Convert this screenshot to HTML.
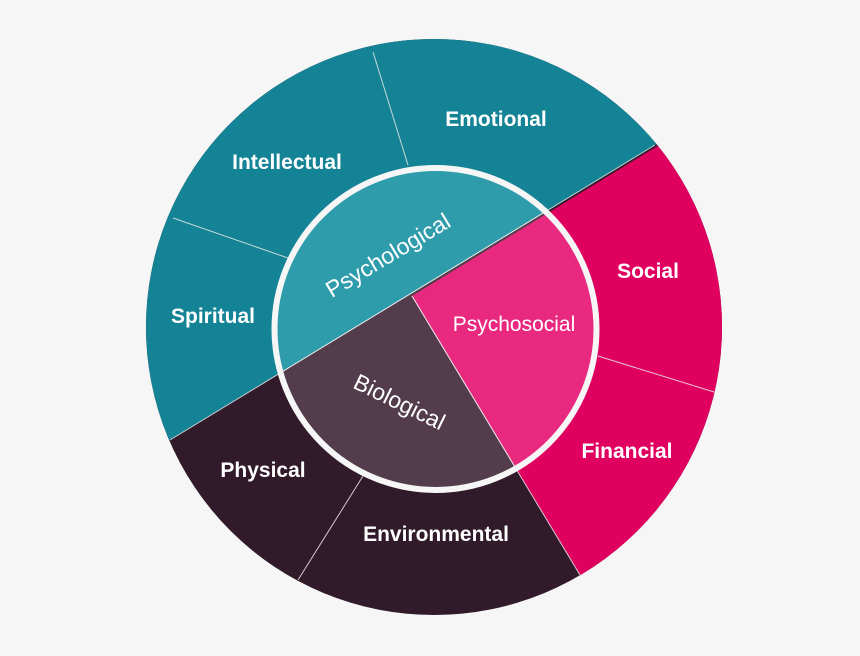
<!DOCTYPE html>
<html><head><style>
html,body{margin:0;padding:0;background:#f6f6f6;width:860px;height:656px;overflow:hidden;}
svg{display:block}
text{font-family:"Liberation Sans",sans-serif;fill:#fff;}
</style></head><body>
<svg width="860" height="656" viewBox="0 0 860 656">
<defs>
<clipPath id="outer"><circle cx="434" cy="327" r="288"/></clipPath>
<clipPath id="inner"><circle cx="435.5" cy="329" r="160"/></clipPath>
</defs>
<rect width="860" height="656" fill="#f6f6f6"/>
<g clip-path="url(#outer)">
<rect x="0" y="0" width="860" height="656" fill="#311a2a"/>
<polygon points="-800,1030 1625,-445 -800,-445" fill="#138395"/>
<polygon points="412,296 1625,-445 1625,1200 956,1200" fill="#e0005f"/>
<g stroke="#e8e8e8" stroke-width="1" opacity="0.85">
<line x1="373" y1="52" x2="408" y2="165"/>
<line x1="173" y1="218" x2="288" y2="258"/>
<line x1="598" y1="356" x2="714" y2="392"/>
<line x1="363" y1="476" x2="298" y2="580"/>
<line x1="170" y1="440" x2="655" y2="145"/>
<line x1="412" y1="296" x2="580" y2="575"/>
</g>
</g>
<g clip-path="url(#inner)">
<rect x="250" y="150" width="380" height="360" fill="#533d4c"/>
<polygon points="-800,1030 1625,-445 -800,-445" fill="#2e9cab"/>
<polygon points="412,296 1625,-445 1625,1200 956,1200" fill="#e8297f"/>
<g stroke="#f0f0f0" stroke-width="1">
<line x1="170" y1="440" x2="655" y2="145"/>
<line x1="412" y1="296" x2="580" y2="575"/>
</g>
</g>
<circle cx="435.5" cy="329" r="161" fill="none" stroke="#f6f6f6" stroke-width="6"/>
<g font-weight="bold" font-size="21" text-anchor="middle">
<text x="496" y="126">Emotional</text>
<text x="287" y="169">Intellectual</text>
<text x="213" y="323">Spiritual</text>
<text x="648" y="278">Social</text>
<text x="627" y="458">Financial</text>
<text x="263" y="477">Physical</text>
<text x="436" y="541">Environmental</text>
</g>
<g font-size="23" text-anchor="middle">
<text x="0" y="0" transform="translate(392,262) rotate(-31)">Psychological</text>
<text x="514" y="331" font-size="21">Psychosocial</text>
<text x="0" y="0" transform="translate(396,409) rotate(26)">Biological</text>
</g>
</svg>
</body></html>
